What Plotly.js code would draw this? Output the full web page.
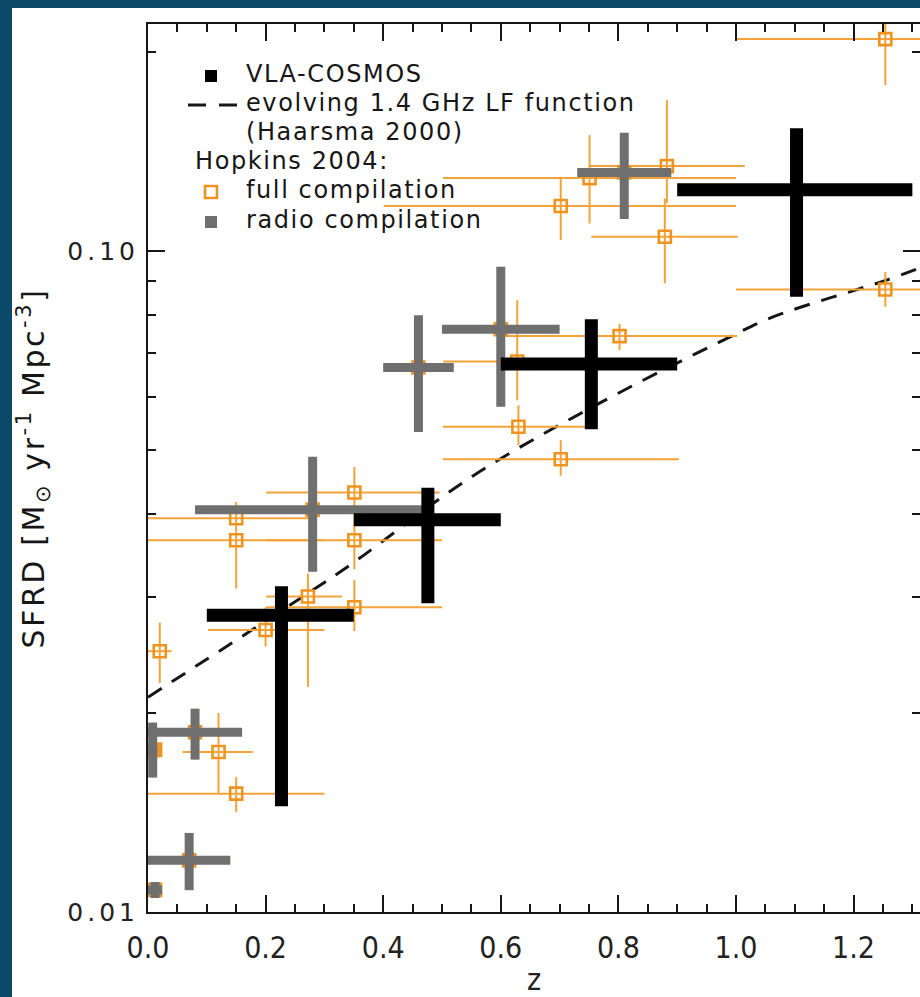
<!DOCTYPE html>
<html>
<head>
<meta charset="utf-8">
<script src="https://cdn.plot.ly/plotly-3.0.1.min.js"></script>
<style>
  html, body { margin: 0; padding: 0; width: 920px; height: 997px; overflow: hidden; background: #0a4a68; }
  #chart { position: absolute; left: 12px; top: 8px; width: 908px; height: 989px; background: #fff; }
</style>
</head>
<body>
<div id="chart"></div>
<script>
// ---- VLA-COSMOS star-formation-rate density ----
const vlaZ      = [0.227, 0.476, 0.754, 1.103];
const vlaZLo    = [0.10, 0.35, 0.60, 0.90];
const vlaZHi    = [0.35, 0.60, 0.90, 1.30];
const vlaSFRD   = [0.0281, 0.0392, 0.0674, 0.1237];
const vlaUpper  = [0.0311, 0.0438, 0.0788, 0.1532];
const vlaLower  = [0.01445, 0.0293, 0.0537, 0.0852];

// ---- Hopkins 2004: radio compilation ----
const radioZ     = [0.008, 0.08, 0.07, 0.012, 0.28, 0.46, 0.60, 0.81];
const radioZLo   = [0.0, 0.0, 0.0, 0.0, 0.08, 0.40, 0.50, 0.73];
const radioZHi   = [0.016, 0.16, 0.14, 0.024, 0.48, 0.52, 0.70, 0.89];
const radioSFRD  = [0.01756, 0.0187, 0.01197, 0.0108, 0.0406, 0.0666, 0.0761, 0.1314];
const radioUpper = [0.01934, 0.0203, 0.01317, 0.0111, 0.0488, 0.0799, 0.0946, 0.1508];
const radioLower = [0.01597, 0.0170, 0.01079, 0.0105, 0.0327, 0.0532, 0.0581, 0.1117];

// ---- Hopkins 2004: remaining points of the full compilation ----
const fullZ     = [1.254, 1.254, 0.879, 0.8825, 0.751, 0.702, 0.802, 0.628, 0.630, 0.702,
                   0.351, 0.351, 0.351, 0.150, 0.150, 0.200, 0.272, 0.020, 0.120, 0.150, 0.012];
const fullZLo   = [1.0, 1.0, 0.754, 0.75, 0.502, 0.401, 0.602, 0.502, 0.5015, 0.5015,
                   0.201, 0.201, 0.201, 0.0, 0.0, 0.102, 0.201, 0.0, 0.059, 0.0, 0.0];
const fullZHi   = [1.5, 1.5, 1.003, 1.015, 1.0, 1.0, 1.002, 0.75, 0.762, 0.903,
                   0.496, 0.50, 0.50, 0.30, 0.286, 0.30, 0.33, 0.04, 0.178, 0.30, 0.024];
const fullSFRD  = [0.209, 0.0874, 0.105, 0.1343, 0.1288, 0.1169, 0.0743, 0.068, 0.0542, 0.0484,
                   0.0431, 0.0365, 0.0289, 0.0365, 0.0394, 0.0267, 0.0300, 0.0248, 0.01746, 0.0151, 0.0176];
const fullUpper = [0.25, 0.0929, 0.120, 0.169, 0.1496, 0.1294, 0.0775, 0.0842, 0.0584, 0.0517,
                   0.0471, 0.0405, 0.0318, 0.0376, 0.0417, 0.0289, 0.0325, 0.0274, 0.0200, 0.0160, 0.0185];
const fullLower = [0.178, 0.0823, 0.0893, 0.118, 0.110, 0.1038, 0.0708, 0.0594, 0.0508, 0.0457,
                   0.0405, 0.0330, 0.0266, 0.03085, 0.0376, 0.0252, 0.0219, 0.0222, 0.0151, 0.01416, 0.0168];

// ---- evolving 1.4 GHz luminosity function (Haarsma 2000) ----
const modelZ    = [0.0, 0.270, 0.348, 0.552, 0.768, 0.989, 1.062, 1.256, 1.312];
const modelSFRD = [0.02113, 0.03025, 0.03369, 0.04562, 0.05882, 0.07404, 0.07937, 0.09031, 0.09415];

// ---- axis ticks ----
const xTickVals  = [0.0, 0.2, 0.4, 0.6, 0.8, 1.0, 1.2];
const xTickText  = ['0.0', '0.2', '0.4', '0.6', '0.8', '1.0', '1.2'];
const yTickVals  = [0.01, 0.1];
const yTickText  = ['0.01', '0.10'];
const yMinorVals = [0.02, 0.03, 0.04, 0.05, 0.06, 0.07, 0.08, 0.09, 0.2];

// ---- legend key text ----
const keyLabels = ['VLA-COSMOS', 'evolving 1.4 GHz LF function', '(Haarsma 2000)',
                   'Hopkins 2004:', 'full compilation', 'radio compilation'];

// asymmetric error arrays from bounds
const plusOf  = (hi, v) => hi.map((h, i) => h - v[i]);
const minusOf = (lo, v) => lo.map((l, i) => v[i] - l);

// wide, airy lettering for the geometric-style labels
const spaced = (s, px) => '<span style="letter-spacing:' + px + 'px">' + s + '</span>';

const ORANGE_BAR = '#f4a33a';
const ORANGE_SQ  = '#ef9320';
const GREY = '#6f6f6f';
const INK = '#161616';
const GEO_FONT = 'DejaVu Sans, Lato, sans-serif';
const NARROW_FONT = 'Liberation Sans Narrow, DejaVu Sans Condensed, Liberation Sans, sans-serif';

// the full compilation also contains the radio points
const allZ   = fullZ.concat(radioZ);
const allZLo = fullZLo.concat(radioZLo);
const allZHi = fullZHi.concat(radioZHi);
const allV   = fullSFRD.concat(radioSFRD);
const allUp  = fullUpper.concat(radioUpper);
const allLo  = fullLower.concat(radioLower);

// legend key lives on a pixel-scaled overlay (x: page px, y: page px downward)
const PLOT_L = 148, PLOT_R = 920, PLOT_T = 24, PLOT_B = 912;
const keyX = [246, 246, 246, 195, 246, 246];
const keyY = [76, 105, 134, 163, 192, 222];

const traces = [
  {
    name: 'evolving 1.4 GHz LF function',
    x: modelZ, y: modelSFRD, type: 'scatter', mode: 'lines',
    line: { color: INK, width: 3, dash: '16px,12px', shape: 'spline' }
  },
  {
    name: 'full compilation',
    x: allZ, y: allV, type: 'scatter', mode: 'markers',
    marker: { symbol: 'square-open', size: 12, color: ORANGE_SQ, line: { width: 2.6, color: ORANGE_SQ } },
    error_x: { type: 'data', symmetric: false, array: plusOf(allZHi, allZ), arrayminus: minusOf(allZLo, allZ),
               color: ORANGE_BAR, thickness: 2, width: 0 },
    error_y: { type: 'data', symmetric: false, array: plusOf(allUp, allV), arrayminus: minusOf(allLo, allV),
               color: ORANGE_BAR, thickness: 2, width: 0 }
  },
  {
    name: 'radio compilation',
    x: radioZ, y: radioSFRD, type: 'scatter', mode: 'markers',
    marker: { symbol: 'square', size: 8, color: GREY },
    error_x: { type: 'data', symmetric: false, array: plusOf(radioZHi, radioZ), arrayminus: minusOf(radioZLo, radioZ),
               color: GREY, thickness: 9, width: 0 },
    error_y: { type: 'data', symmetric: false, array: plusOf(radioUpper, radioSFRD), arrayminus: minusOf(radioLower, radioSFRD),
               color: GREY, thickness: 9, width: 0 }
  },
  {
    name: 'VLA-COSMOS',
    x: vlaZ, y: vlaSFRD, type: 'scatter', mode: 'markers',
    marker: { symbol: 'square', size: 10, color: '#000' },
    error_x: { type: 'data', symmetric: false, array: plusOf(vlaZHi, vlaZ), arrayminus: minusOf(vlaZLo, vlaZ),
               color: '#000', thickness: 13, width: 0 },
    error_y: { type: 'data', symmetric: false, array: plusOf(vlaUpper, vlaSFRD), arrayminus: minusOf(vlaLower, vlaSFRD),
               color: '#000', thickness: 13, width: 0 }
  },
  {
    name: 'key text',
    x: keyX, y: keyY, xaxis: 'x2', yaxis: 'y2', type: 'scatter', mode: 'text',
    text: keyLabels.map(t => spaced(t, 1.6)), textposition: 'middle right', cliponaxis: false,
    textfont: { family: GEO_FONT, size: 24, color: INK }
  }
];

// legend glyphs on the same pixel overlay
const shapes = [
  { type: 'rect', xref: 'x2', yref: 'y2', x0: 205, x1: 217, y0: 70, y1: 82,
    fillcolor: '#000', line: { width: 0 } },
  { type: 'line', xref: 'x2', yref: 'y2', x0: 188, x1: 206, y0: 105, y1: 105,
    line: { color: INK, width: 3 } },
  { type: 'line', xref: 'x2', yref: 'y2', x0: 219, x1: 237, y0: 105, y1: 105,
    line: { color: INK, width: 3 } },
  { type: 'rect', xref: 'x2', yref: 'y2', x0: 205, x1: 217, y0: 186, y1: 198,
    fillcolor: '#fff', line: { color: ORANGE_SQ, width: 2.6 } },
  { type: 'rect', xref: 'x2', yref: 'y2', x0: 205, x1: 217, y0: 216, y1: 228,
    fillcolor: GREY, line: { width: 0 } }
];

const axisCommon = {
  showline: true, linecolor: INK, linewidth: 2, mirror: 'allticks',
  ticks: 'inside', ticklen: 17, tickwidth: 2, tickcolor: INK,
  showgrid: false, zeroline: false, tickmode: 'array'
};

const layout = {
  width: 908, height: 989,
  margin: { l: 136, r: 0, t: 16, b: 85 },
  paper_bgcolor: '#fff', plot_bgcolor: '#fff',
  showlegend: false,
  xaxis: Object.assign({}, axisCommon, {
    range: [0, 1.313],
    tickvals: xTickVals, ticktext: xTickText,
    ticklabelstandoff: 8,
    tickfont: { family: NARROW_FONT, size: 30, color: '#222' },
    minor: { tickmode: 'linear', tick0: 0, dtick: 0.05, ticks: 'inside', ticklen: 8, tickwidth: 2, tickcolor: INK, showgrid: false },
    title: { text: 'z', standoff: 18, font: { family: NARROW_FONT, size: 30, color: '#222' } }
  }),
  yaxis: Object.assign({}, axisCommon, {
    type: 'log',
    range: [-2, Math.log10(0.2203)],
    tickvals: yTickVals, ticktext: yTickText.map(t => spaced(t, 4)),
    ticklabelstandoff: 2,
    tickfont: { family: GEO_FONT, size: 25, color: '#222' },
    minor: { tickmode: 'array', tickvals: yMinorVals, ticks: 'inside', ticklen: 8, tickwidth: 2, tickcolor: INK, showgrid: false },
    title: { text: spaced('SFRD [M<sub>⊙</sub> yr<sup>-1</sup> Mpc<sup>-3</sup>]', 2.6), standoff: 22,
             font: { family: GEO_FONT, size: 30, color: INK } }
  }),
  xaxis2: { overlaying: 'x', range: [PLOT_L, PLOT_R], visible: false, fixedrange: true },
  yaxis2: { overlaying: 'y', range: [PLOT_B, PLOT_T], visible: false, fixedrange: true },
  shapes: shapes
};

Plotly.newPlot('chart', traces, layout, { staticPlot: true, displayModeBar: false });
</script>
</body>
</html>
